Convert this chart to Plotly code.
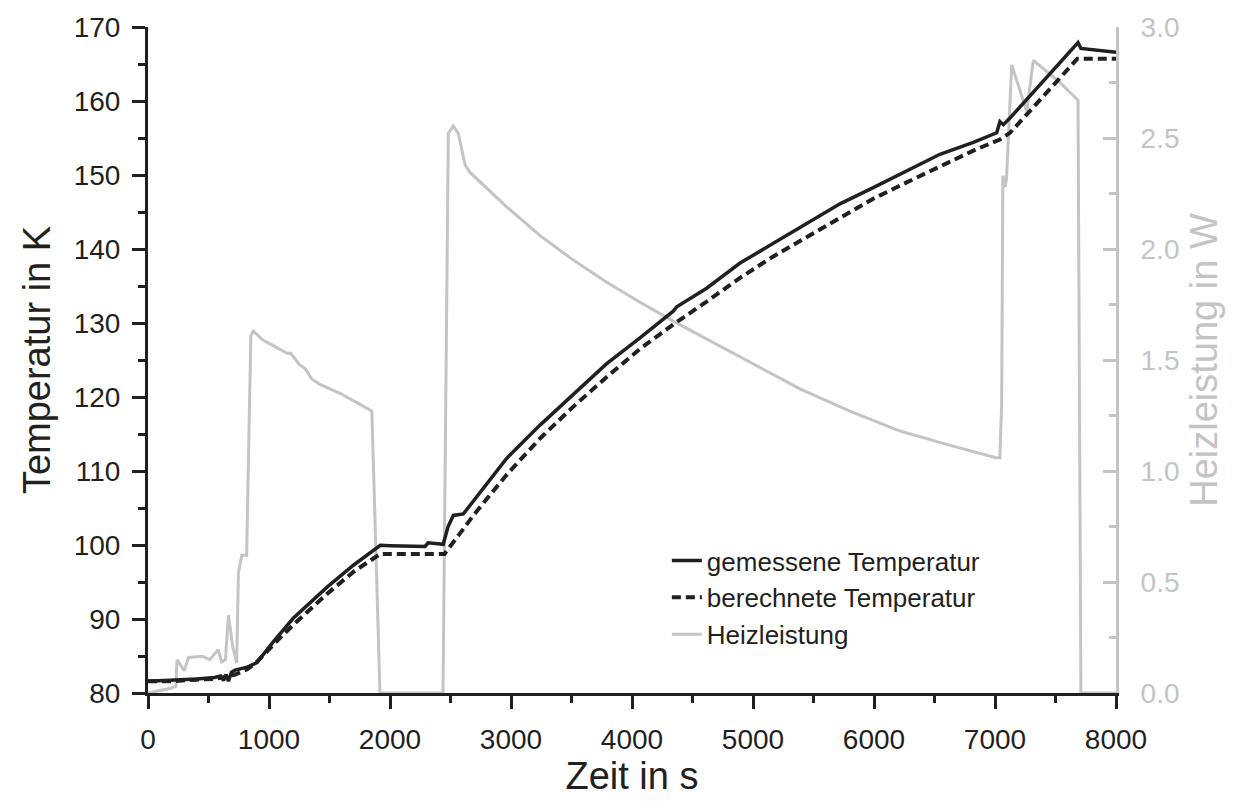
import plotly.graph_objects as go

# ---------------- data ----------------
t_gemessen = [0, 200, 400, 550, 600, 625, 645, 665, 690, 720, 820, 900, 1040, 1200, 1480,
              1700, 1920, 2000, 2290, 2315, 2440, 2480, 2523, 2606, 2689, 2964, 3240,
              3515, 3791, 4066, 4341, 4370, 4617, 4893, 5168, 5444, 5719, 5994, 6270,
              6545, 6821, 7014, 7041, 7069, 7124, 7314, 7537, 7686, 7710, 8000]
T_gemessen = [81.6, 81.7, 81.9, 82.1, 82.3, 81.7, 82.5, 81.6, 82.8, 83.1, 83.5, 84.1, 87.0,
              90.1, 94.3, 97.3, 99.95, 99.9, 99.8, 100.3, 100.1, 102.5, 104.0, 104.2,
              105.9, 111.7, 116.2, 120.4, 124.5, 128.0, 131.6, 132.2, 134.7, 138.1,
              140.8, 143.4, 146.1, 148.3, 150.6, 152.8, 154.4, 155.7, 157.2, 156.8,
              157.7, 161.1, 165.2, 167.9, 167.1, 166.6]

t_berechnet = [0, 200, 400, 550, 650, 720, 820, 900, 1040, 1200, 1480, 1700, 1920, 2450,
               2580, 2689, 2964, 3240, 3515, 3791, 4066, 4341, 4617, 4893, 5168, 5444,
               5719, 5994, 6270, 6545, 6821, 7041, 7124, 7314, 7680, 8000]
T_berechnet = [81.6, 81.6, 81.8, 81.9, 82.2, 82.5, 83.2, 84.2, 86.6, 89.2, 93.4, 96.4,
               98.8, 98.8, 101.6, 104.0, 109.5, 114.4, 118.7, 122.7, 126.5, 129.8, 132.9,
               136.1, 139.0, 141.6, 144.3, 146.8, 149.0, 151.2, 153.3, 154.8, 155.7,
               159.1, 165.7, 165.7]

t_heiz = [0, 180, 230, 240, 300, 335, 450, 510, 580, 610, 640, 665, 700, 733, 747, 775,
          815, 850, 870, 950, 1050, 1150, 1180, 1250, 1300, 1353, 1421, 1587, 1752,
          1850, 1917, 2438, 2482, 2523, 2565, 2620, 2661, 2964, 3240, 3515, 3791, 4066,
          4341, 4617, 5058, 5388, 5800, 6215, 6600, 7008, 7040, 7055, 7065, 7085, 7095,
          7138, 7262, 7317, 7537, 7686, 7710, 8000]
P_heiz = [0.0, 0.02, 0.03, 0.15, 0.10, 0.16, 0.165, 0.15, 0.195, 0.14, 0.15, 0.35, 0.21,
          0.135, 0.54, 0.62, 0.62, 1.61, 1.63, 1.59, 1.56, 1.53, 1.53, 1.48, 1.46, 1.415,
          1.39, 1.35, 1.30, 1.27, 0.0, 0.0, 2.52, 2.554, 2.52, 2.38, 2.345, 2.19, 2.06,
          1.95, 1.85, 1.76, 1.675, 1.594, 1.467, 1.37, 1.27, 1.18, 1.12, 1.06, 1.06, 1.3,
          2.33, 2.28, 2.32, 2.83, 2.62, 2.85, 2.75, 2.67, 0.0, 0.0]

x_ticks = list(range(0, 8001, 1000))
T_ticks = list(range(80, 171, 10))
P_ticks = [0.0, 0.5, 1.0, 1.5, 2.0, 2.5, 3.0]

# ---------------- styling ----------------
BLACK = "#231f20"
GREY = "#c4c4c4"
GREY_TXT = "#c4c4c4"
FONT = "Liberation Sans, Arial, sans-serif"

fig = go.Figure()

fig.add_trace(go.Scatter(x=t_heiz, y=P_heiz, mode="lines", name="Heizleistung",
                         line=dict(color=GREY, width=3), xaxis="x", yaxis="y",
                         legendrank=3))
fig.add_trace(go.Scatter(x=t_gemessen, y=T_gemessen, mode="lines",
                         name="gemessene Temperatur",
                         line=dict(color=BLACK, width=3.5), xaxis="x", yaxis="y2",
                         legendrank=1))
fig.add_trace(go.Scatter(x=t_berechnet, y=T_berechnet, mode="lines",
                         name="berechnete Temperatur",
                         line=dict(color=BLACK, width=4, dash="9px,5px"),
                         xaxis="x", yaxis="y2", legendrank=2))

fig.update_layout(
    width=1234, height=801,
    margin=dict(l=148, r=118, t=22, b=101),
    paper_bgcolor="white", plot_bgcolor="white",
    font=dict(family=FONT, size=27, color=BLACK),
    showlegend=True,
    legend=dict(x=0.536, y=0.234, xanchor="left", yanchor="top",
                bgcolor="rgba(0,0,0,0)", font=dict(size=26, color=BLACK),
                tracegroupgap=0, itemwidth=30),
    xaxis=dict(range=[0, 8000], tickvals=x_ticks, ticks="outside", ticklen=13,
               tickwidth=3, tickcolor=BLACK, showline=True, linecolor=BLACK,
               linewidth=3, showgrid=False, zeroline=False,
               tickfont=dict(size=28, color=BLACK), ticklabelstandoff=6,
               minor=dict(dtick=500, ticks="outside", ticklen=7, tickwidth=3,
                          tickcolor=BLACK, showgrid=False),
               title=dict(text="Zeit in s", font=dict(size=38, color=BLACK),
                          standoff=8)),
    xaxis2=dict(range=[0, 8000], overlaying="x", side="top", tickvals=x_ticks,
                ticks="inside", ticklen=13, tickwidth=3, tickcolor=BLACK,
                showline=True, linecolor=BLACK, linewidth=3, showgrid=False,
                zeroline=False, showticklabels=False,
                minor=dict(dtick=500, ticks="inside", ticklen=7, tickwidth=3,
                           tickcolor=BLACK, showgrid=False)),
    yaxis=dict(range=[0, 3], side="right", tickvals=P_ticks, tickformat=".1f",
               ticks="inside", ticklen=13, tickwidth=3, tickcolor=GREY,
               showline=True, linecolor=GREY, linewidth=3, showgrid=False,
               zeroline=False, tickfont=dict(size=28, color=GREY_TXT),
               ticklabelstandoff=16,
               minor=dict(dtick=0.25, ticks="inside", ticklen=7, tickwidth=3,
                          tickcolor=GREY, showgrid=False),
               title=dict(text="Heizleistung in W", font=dict(size=38, color=GREY_TXT),
                          standoff=12)),
    yaxis2=dict(range=[80, 170], overlaying="y", side="left", tickvals=T_ticks,
                ticks="outside", ticklen=13, tickwidth=3, tickcolor=BLACK,
                showline=True, linecolor=BLACK, linewidth=3, showgrid=False,
                zeroline=False, tickfont=dict(size=28, color=BLACK),
                ticklabelstandoff=6,
                minor=dict(dtick=5, ticks="outside", ticklen=7, tickwidth=3,
                           tickcolor=BLACK, showgrid=False),
                title=dict(text="Temperatur in K", font=dict(size=38, color=BLACK),
                           standoff=12)),
)

fig.write_html("out.html")
